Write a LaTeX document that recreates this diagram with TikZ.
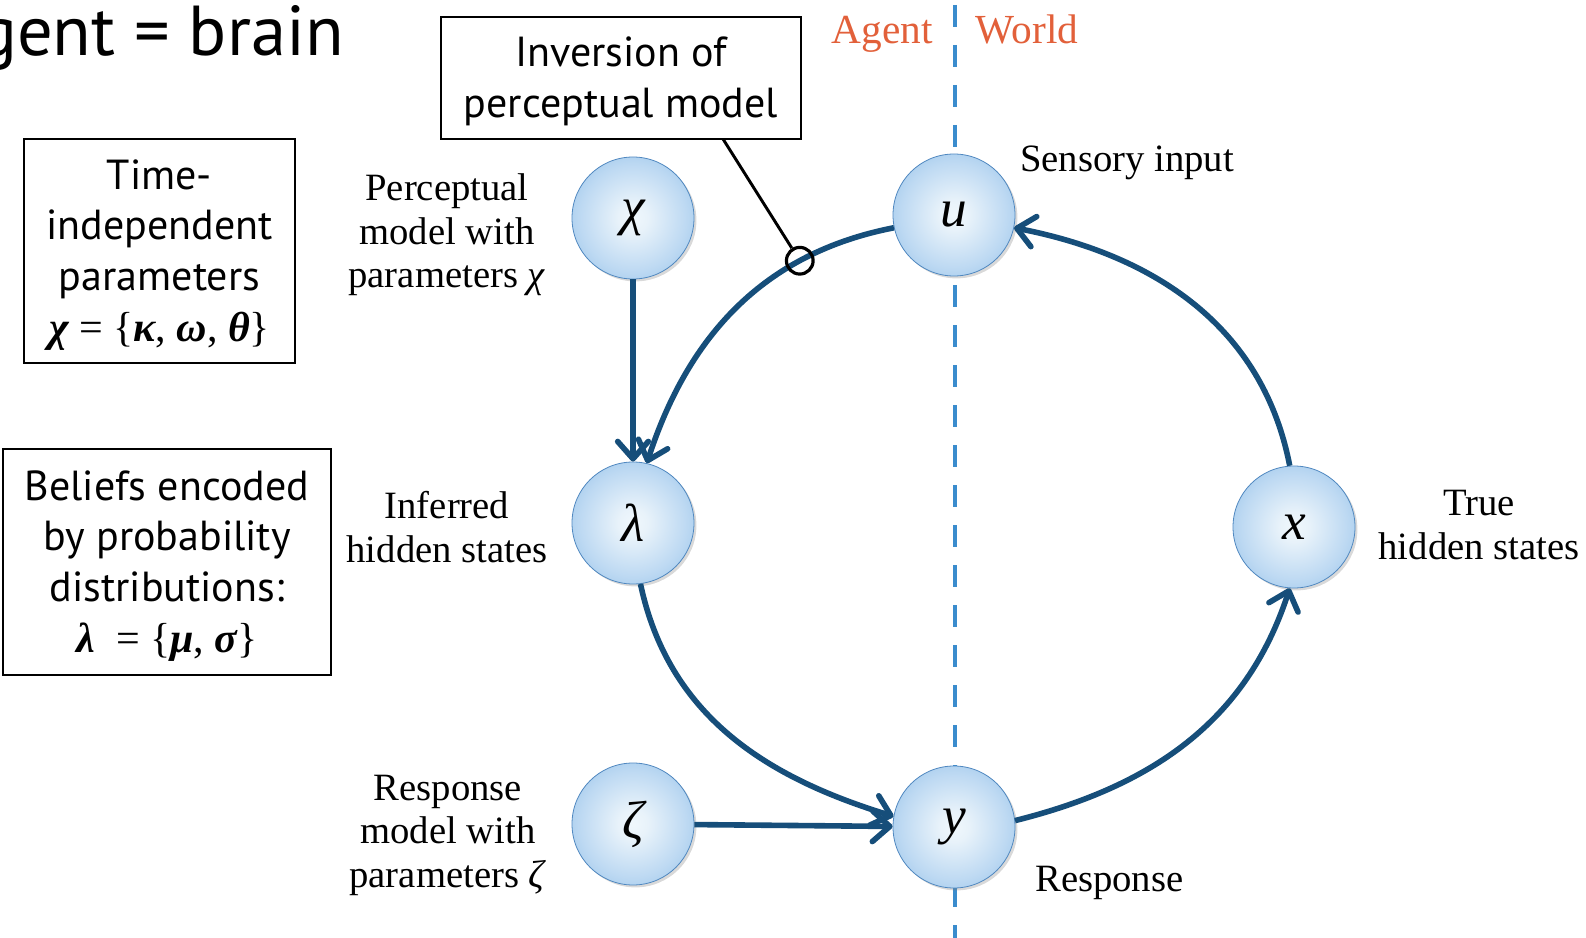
\documentclass[tikz,border=0pt]{standalone}
\usepackage{fontspec}
\setmainfont{Liberation Serif}
\newfontfamily\sansfnt{PT Sans}
\usetikzlibrary{arrows.meta,shadows}
\definecolor{flowblue}{RGB}{22,78,122}
\definecolor{dashblue}{RGB}{58,140,205}
\definecolor{agentorange}{RGB}{226,96,58}
\definecolor{ballrim}{RGB}{80,136,192}
\pgfdeclareradialshading{ballshade}{\pgfpoint{0bp}{0bp}}{rgb(0bp)=(0.94,0.97,0.99); rgb(6bp)=(0.91,0.95,0.98); rgb(22bp)=(0.74,0.85,0.95); rgb(38bp)=(0.53,0.73,0.90); rgb(50bp)=(0.38,0.62,0.85)}
\newcommand{\bgr}[1]{{\bfseries\itshape #1}}
\newcommand{\boxtext}[1]{\raisebox{-3pt}[\height][\depth]{\begin{tabular}{@{}c@{}}#1\end{tabular}}}
\tikzset{
  ball/.style={circle, minimum size=91.5pt, inner sep=0pt, shading=ballshade, draw=ballrim, line width=0.6pt,
    drop shadow={shadow xshift=1.8pt, shadow yshift=-1.8pt, opacity=0.3},
    font=\fontsize{40}{40}\selectfont\itshape},
  flow/.style={draw=flowblue, line width=4.2pt, -{Straight Barb[length=13pt,width=23pt,round]}},
  lbl/.style={align=center, inner sep=0pt, font=\fontsize{29}{32.6}\selectfont},
  sbox/.style={draw, line width=1.5pt, align=center, inner sep=0pt, font=\sansfnt\fontsize{31.5}{38}\selectfont},
  ringmark/.style={circle, draw=black, line width=2.4pt, minimum size=20pt, inner sep=0pt},
  divider/.style={draw=dashblue, line width=3pt, dash pattern=on 16.5pt off 13.5pt},
  side/.style={inner sep=0pt, anchor=base, text=agentorange, font=\fontsize{31}{31}\selectfont}
}
\begin{document}
\begin{tikzpicture}[x=0.75pt,y=0.75pt]
\useasboundingbox (0,0) rectangle (1586,-938);
% divider
\coordinate (dtop) at (955,-5);
\coordinate (dbot) at (955,-938);
\draw[divider] (dtop) -- (dbot);
% title
\node[anchor=base east, inner sep=0pt, font=\sansfnt\fontsize{53}{53}\selectfont] (title) at (344,-56) {Agent = brain};
% boxes
\node[sbox, minimum width=203.25pt, minimum height=168pt] (tbox) at (159.5,-251)
  {\boxtext{Time-\\independent\\parameters\\{\rmfamily\bgr{χ} = \{\bgr{κ}, \bgr{ω}, \bgr{θ}\}}}};
\node[sbox, minimum width=246pt, minimum height=169.5pt] (bbox) at (167,-562)
  {\boxtext{Beliefs encoded\\by probability\\distributions:\\{\rmfamily\bgr{λ}\ \ = \{\bgr{μ}, \bgr{σ}\}}}};
\node[sbox, minimum width=270pt, minimum height=91.5pt] (inv) at (621,-78)
  {\boxtext{Inversion of\\perceptual model}};
% agent/world
\node[side] (agent) at (882,-44) {Agent};
\node[side] (world) at (1027,-44) {World};
% balls
\node[ball] (chi) at (633,-218) {χ};
\node[ball] (u) at (954,-215) {u};
\node[ball] (lambda) at (633,-523) {λ};
\node[ball] (x) at (1294,-527) {x};
\node[ball] (zeta) at (633,-824) {ζ};
\node[ball] (y) at (954,-827) {y};
% labels
\node[lbl] (lchi) at (447,-235) {Perceptual\\model with\\parameters \textit{χ}};
\node[lbl] (llam) at (447,-527) {Inferred\\hidden states};
\node[lbl] (lzeta) at (448,-835) {Response\\model with\\parameters \textit{ζ}};
\node[lbl, anchor=west] (lu) at (1020,-163) {Sensory input};
\node[lbl] (lx) at (1479,-525) {True\\hidden states};
\node[lbl, anchor=west] (ly) at (1035,-883) {Response};
% connectors
\draw[flow] (chi) -- (lambda);
\draw[flow] (zeta) -- (y);
\draw[flow] (u.192) to[out=191,in=72] node[ringmark, pos=0.27] (ring) {} (lambda.77);
\draw[flow] (lambda.277) to[out=282,in=163] (y.170);
\draw[flow] (y.6) to[out=14,in=252] (x.266);
\draw[flow] (x.94) to[out=101,in=349] (u.348);
% callout
\coordinate (callfoot) at (723,-139);
\draw[line width=2.2pt] (callfoot) -- (ring);
\end{tikzpicture}
\end{document}
